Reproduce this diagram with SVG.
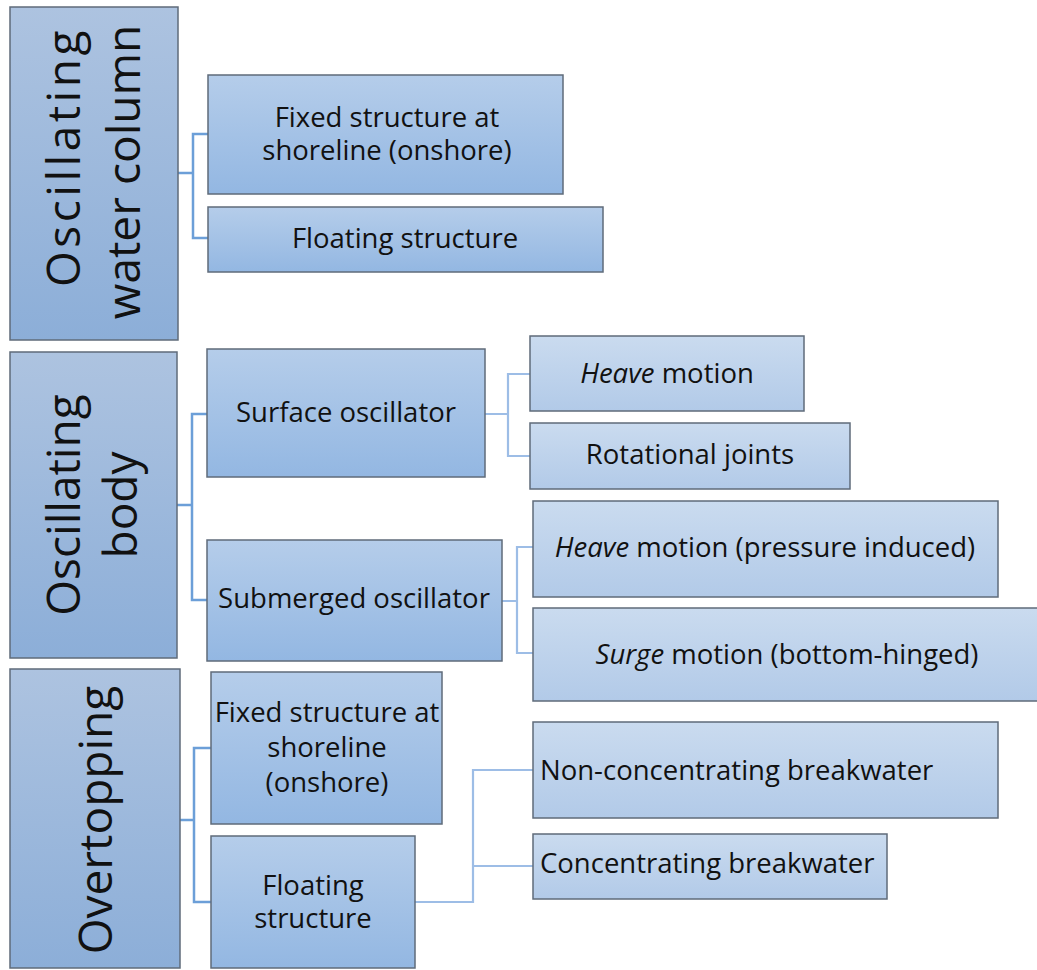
<svg xmlns="http://www.w3.org/2000/svg" width="1037" height="970" viewBox="0 0 1037 970">
  <defs>
    <linearGradient id="gTop" x1="0" y1="0" x2="0" y2="1">
      <stop offset="0" stop-color="#adc3e0"/>
      <stop offset="1" stop-color="#8caed8"/>
    </linearGradient>
    <linearGradient id="gMid" x1="0" y1="0" x2="0" y2="1">
      <stop offset="0" stop-color="#b5cdea"/>
      <stop offset="1" stop-color="#93b7e2"/>
    </linearGradient>
    <linearGradient id="gLeaf" x1="0" y1="0" x2="0" y2="1">
      <stop offset="0" stop-color="#cadbef"/>
      <stop offset="1" stop-color="#b2cae8"/>
    </linearGradient>
    <style>
      .box { stroke: #5f6b7a; stroke-width: 1.5; }
      .l1 { fill: url(#gTop); }
      .l2 { fill: url(#gMid); }
      .l3 { fill: url(#gLeaf); }
      text { font-family: "Open Sans", "Noto Sans", "Liberation Sans", sans-serif; fill: #111; }
      .big { font-size: 46px; text-anchor: middle; }
      .lbl { font-size: 27.5px; text-anchor: middle; }
      .lft { font-size: 27.5px; text-anchor: start; }
      .conn1 { fill: none; stroke: #6c9fd8; stroke-width: 2.5; }
      .conn2 { fill: none; stroke: #9dbde6; stroke-width: 2.2; }
    </style>
  </defs>

  <rect width="1037" height="970" fill="#ffffff"/>

  <!-- connectors -->
  <g id="connectors">
    <path class="conn1" d="M178 173 H193 M208 134 H193 V238 H208"/>
    <path class="conn1" d="M177 505 H192 M207 414 H192 V600 H207"/>
    <path class="conn1" d="M180 820 H194 M211 748 H194 V902 H211"/>
    <path class="conn2" d="M485 414 H508 M530 374 H508 V456 H530"/>
    <path class="conn2" d="M502 601 H517 M533 547 H517 V653 H533"/>
    <path class="conn2" d="M415 902 H473 V770 H533 M473 866 H533"/>
  </g>

  <!-- oscillating water column -->
  <g id="owc">
    <rect class="box l1" x="10" y="7" width="168" height="333"/>
    <text class="big" transform="translate(80 157) rotate(-90)" letter-spacing="3.5">Oscillating</text>
    <text class="big" transform="translate(140 172) rotate(-90)">water column</text>
  </g>
  <g id="owc-fixed">
    <rect class="box l2" x="208" y="75" width="355" height="119"/>
    <text class="lbl" x="387" y="127">Fixed structure at</text>
    <text class="lbl" x="387" y="160">shoreline (onshore)</text>
  </g>
  <g id="owc-floating">
    <rect class="box l2" x="208" y="207" width="395" height="65"/>
    <text class="lbl" x="405" y="248">Floating structure</text>
  </g>

  <!-- oscillating body -->
  <g id="ob">
    <rect class="box l1" x="10" y="352" width="167" height="306"/>
    <text class="big" transform="translate(80 505) rotate(-90)">Oscillating</text>
    <text class="big" transform="translate(137 505) rotate(-90)">body</text>
  </g>
  <g id="ob-surface">
    <rect class="box l2" x="207" y="349" width="278" height="128"/>
    <text class="lbl" x="346" y="422">Surface oscillator</text>
  </g>
  <g id="ob-submerged">
    <rect class="box l2" x="207" y="540" width="295" height="121"/>
    <text class="lbl" x="354" y="608">Submerged oscillator</text>
  </g>
  <g id="ob-heave">
    <rect class="box l3" x="530" y="336" width="274" height="75"/>
    <text class="lbl" x="667" y="383"><tspan font-style="italic">Heave</tspan> motion</text>
  </g>
  <g id="ob-rotational">
    <rect class="box l3" x="530" y="423" width="320" height="66"/>
    <text class="lbl" x="690" y="464">Rotational joints</text>
  </g>
  <g id="ob-heave-pressure">
    <rect class="box l3" x="533" y="501" width="465" height="96"/>
    <text class="lbl" x="765" y="557"><tspan font-style="italic">Heave</tspan> motion (pressure induced)</text>
  </g>
  <g id="ob-surge">
    <rect class="box l3" x="533" y="608" width="507" height="93"/>
    <text class="lbl" x="787" y="664"><tspan font-style="italic">Surge</tspan> motion (bottom-hinged)</text>
  </g>

  <!-- overtopping -->
  <g id="ot">
    <rect class="box l1" x="10" y="669" width="170" height="299"/>
    <text class="big" transform="translate(112 820) rotate(-90)">Overtopping</text>
  </g>
  <g id="ot-fixed">
    <rect class="box l2" x="211" y="672" width="231" height="152"/>
    <text class="lbl" x="327" y="722">Fixed structure at</text>
    <text class="lbl" x="327" y="757">shoreline</text>
    <text class="lbl" x="327" y="792">(onshore)</text>
  </g>
  <g id="ot-floating">
    <rect class="box l2" x="211" y="836" width="204" height="132"/>
    <text class="lbl" x="313" y="895">Floating</text>
    <text class="lbl" x="313" y="928">structure</text>
  </g>
  <g id="ot-nonconc">
    <rect class="box l3" x="533" y="722" width="465" height="96"/>
    <text class="lft" x="540" y="780">Non-concentrating breakwater</text>
  </g>
  <g id="ot-conc">
    <rect class="box l3" x="533" y="834" width="354" height="65"/>
    <text class="lft" x="540" y="873">Concentrating breakwater</text>
  </g>
</svg>
